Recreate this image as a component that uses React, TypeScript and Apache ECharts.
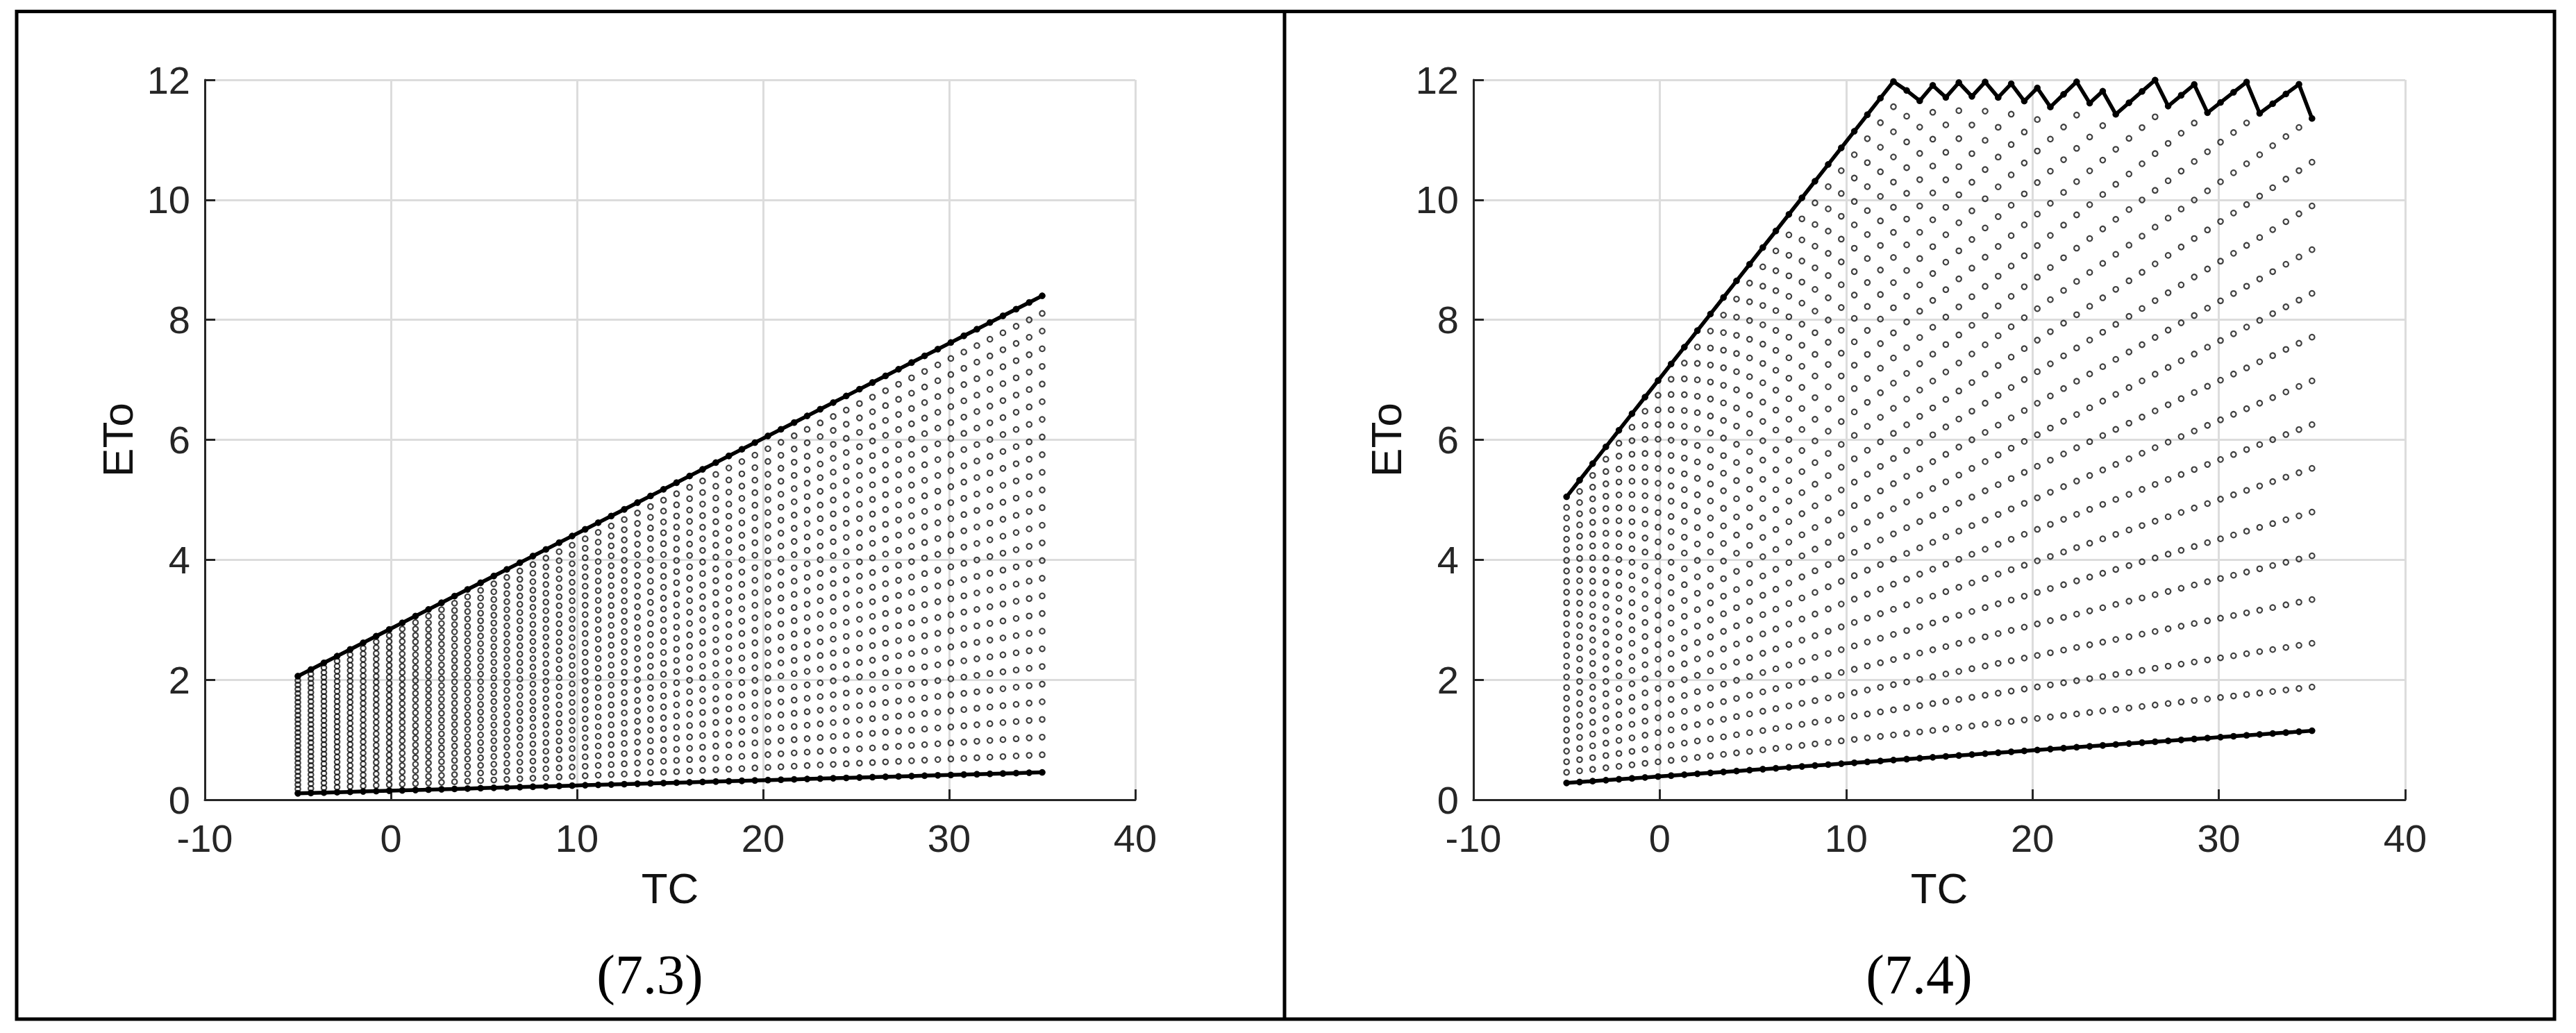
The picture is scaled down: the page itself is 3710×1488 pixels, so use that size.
import React, { useEffect, useRef } from "react";
import * as echarts from "echarts";

// TC columns of the point lattice (58 evenly spaced columns from -5 to 35)
const tcColumns = [
  -5.0, -4.3, -3.6, -2.89, -2.19, -1.49, -0.79, -0.09, 0.61, 1.32,
  2.02, 2.72, 3.42, 4.12, 4.82, 5.53, 6.23, 6.93, 7.63, 8.33,
  9.04, 9.74, 10.44, 11.14, 11.84, 12.54, 13.25, 13.95, 14.65, 15.35,
  16.05, 16.75, 17.46, 18.16, 18.86, 19.56, 20.26, 20.96, 21.67, 22.37,
  23.07, 23.77, 24.47, 25.18, 25.88, 26.58, 27.28, 27.98, 28.68, 29.39,
  30.09, 30.79, 31.49, 32.19, 32.89, 33.6, 34.3, 35.0,
];

// Each lattice curve is a straight line: its ETo at the first (TC = -5) and last (TC = 35) column.
// (7.3): 28 curves
const eto73AtMinus5 = [
  0.107, 0.179, 0.252, 0.324, 0.396, 0.469, 0.541, 0.613, 0.686, 0.758,
  0.83, 0.903, 0.975, 1.047, 1.12, 1.192, 1.264, 1.337, 1.409, 1.481,
  1.554, 1.626, 1.698, 1.771, 1.843, 1.915, 1.988, 2.06,
];
const eto73At35 = [
  0.456, 0.75, 1.044, 1.339, 1.633, 1.927, 2.221, 2.516, 2.81, 3.104,
  3.398, 3.692, 3.987, 4.281, 4.575, 4.869, 5.164, 5.458, 5.752, 6.046,
  6.34, 6.635, 6.929, 7.223, 7.517, 7.812, 8.106, 8.4,
];
// (7.4): 28 curves, points above the 12 cap are not plotted
const eto74AtMinus5 = [
  0.28, 0.457, 0.633, 0.81, 0.987, 1.163, 1.34, 1.517, 1.693, 1.87,
  2.047, 2.223, 2.4, 2.577, 2.753, 2.93, 3.107, 3.283, 3.46, 3.637,
  3.813, 3.99, 4.167, 4.343, 4.52, 4.697, 4.873, 5.05,
];
const eto74At35 = [
  1.15, 1.879, 2.608, 3.337, 4.066, 4.795, 5.524, 6.253, 6.982, 7.711,
  8.44, 9.169, 9.898, 10.627, 11.356, 12.085, 12.814, 13.543, 14.272, 15.001,
  15.73, 16.459, 17.188, 17.917, 18.646, 19.375, 20.104, 20.833,
];
const ETO_CAP_74 = 12;

const xRange = [-10, 40];
const xStep = 10;
const yRange = [0, 12];
const yStep = 2;
const panelLabels = ["(7.3)", "(7.4)"];
const xTitle = "TC";
const yTitle = "ETo";

function buildLattice(atStart: number[], atEnd: number[], cap: number) {
  const first = tcColumns[0];
  const last = tcColumns[tcColumns.length - 1];
  const points: number[][] = [];
  const lower: number[][] = [];
  const upper: number[][] = [];
  tcColumns.forEach((tc) => {
    const f = (tc - first) / (last - first);
    let top = -Infinity;
    atStart.forEach((v0, k) => {
      const v = v0 + (atEnd[k] - v0) * f;
      if (k === 0) lower.push([tc, v]);
      if (v <= cap) {
        points.push([tc, v]);
        if (v > top) top = v;
      }
    });
    upper.push([tc, top]);
  });
  return { points, lower, upper };
}

const SANS = '"Liberation Sans", Arial, Helvetica, sans-serif';
const SERIF = '"Liberation Serif", "Times New Roman", serif';
const AXIS = "#262626";
const GRIDC = "#dcdcdc";

function makeX(gridIndex: number) {
  return {
    type: "value",
    gridIndex,
    min: xRange[0],
    max: xRange[1],
    interval: xStep,
    name: xTitle,
    nameLocation: "middle",
    nameGap: 96,
    nameTextStyle: { fontSize: 62, color: "#111", fontFamily: SANS },
    axisLine: { show: true, onZero: false, lineStyle: { color: AXIS, width: 3 } },
    axisTick: { show: true, inside: true, length: 15, lineStyle: { color: AXIS, width: 3 } },
    axisLabel: { fontSize: 56, color: AXIS, margin: 27, fontFamily: SANS },
    splitLine: { show: true, lineStyle: { color: GRIDC, width: 3 } },
  };
}

function makeY(gridIndex: number) {
  return {
    type: "value",
    gridIndex,
    min: yRange[0],
    max: yRange[1],
    interval: yStep,
    name: yTitle,
    nameLocation: "middle",
    nameGap: 95,
    nameTextStyle: { fontSize: 62, color: "#111", fontFamily: SANS },
    axisLine: { show: true, onZero: false, lineStyle: { color: AXIS, width: 3 } },
    axisTick: { show: true, inside: true, length: 15, lineStyle: { color: AXIS, width: 3 } },
    axisLabel: { fontSize: 56, color: AXIS, margin: 21, fontFamily: SANS },
    splitLine: { show: true, lineStyle: { color: GRIDC, width: 3 } },
  };
}

function panelSeries(idx: number, lat: { points: number[][]; lower: number[][]; upper: number[][] }) {
  const lineCommon = {
    type: "line",
    xAxisIndex: idx,
    yAxisIndex: idx,
    symbol: "circle",
    symbolSize: 9,
    showSymbol: true,
    showAllSymbol: true,
    lineStyle: { color: "#000", width: 5.5 },
    itemStyle: { color: "#000" },
    silent: true,
    z: 4,
  };
  return [
    {
      type: "scatter",
      xAxisIndex: idx,
      yAxisIndex: idx,
      data: lat.points,
      symbol: "circle",
      symbolSize: 7.5,
      itemStyle: { color: "rgba(0,0,0,0)", borderColor: "#111", borderWidth: 2.2 },
      silent: true,
      progressive: 0,
      z: 2,
    },
    { ...lineCommon, data: lat.upper },
    { ...lineCommon, data: lat.lower },
  ];
}

export default function App() {
  const ref = useRef<HTMLDivElement>(null);
  useEffect(() => {
    if (!ref.current) return;
    const chart = echarts.init(ref.current, undefined, { renderer: "svg" });
    const lat73 = buildLattice(eto73AtMinus5, eto73At35, Infinity);
    const lat74 = buildLattice(eto74AtMinus5, eto74At35, ETO_CAP_74);
    chart.setOption({
      animation: false,
      backgroundColor: "#ffffff",
      grid: [
        { left: 295, top: 115, width: 1340, height: 1037, containLabel: false },
        { left: 2122, top: 115, width: 1342, height: 1037, containLabel: false },
      ],
      xAxis: [makeX(0), makeX(1)],
      yAxis: [makeY(0), makeY(1)],
      series: [...panelSeries(0, lat73), ...panelSeries(1, lat74)],
      graphic: [
        {
          type: "rect",
          shape: { x: 24, y: 16.5, width: 3655, height: 1451.5 },
          style: { fill: "none", stroke: "#000", lineWidth: 5 },
          z: 10,
        },
        {
          type: "line",
          shape: { x1: 1850, y1: 16.5, x2: 1850, y2: 1468 },
          style: { stroke: "#000", lineWidth: 5 },
          z: 10,
        },
        {
          type: "text",
          x: 936,
          y: 1404,
          style: {
            text: panelLabels[0],
            align: "center",
            verticalAlign: "middle",
            fontSize: 80,
            fontFamily: SERIF,
            fill: "#000",
          },
          z: 10,
        },
        {
          type: "text",
          x: 2764,
          y: 1404,
          style: {
            text: panelLabels[1],
            align: "center",
            verticalAlign: "middle",
            fontSize: 80,
            fontFamily: SERIF,
            fill: "#000",
          },
          z: 10,
        },
      ],
    });
    return () => chart.dispose();
  }, []);
  return (
    <div
      ref={ref}
      style={{ position: "absolute", left: 0, top: 0, width: 3710, height: 1488 }}
    />
  );
}
